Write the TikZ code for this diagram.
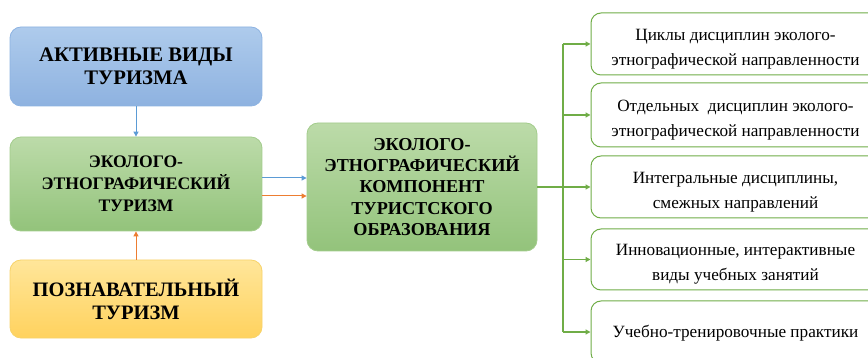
\documentclass[tikz,border=0pt]{standalone}
\usepackage{fontspec}
\setmainfont{Liberation Serif}
\newfontfamily\ser{Liberation Serif}
\usetikzlibrary{arrows.meta}
\definecolor{bluebd}{HTML}{8DB3E2}
\definecolor{bluetop}{HTML}{AECBEC}
\definecolor{bluebot}{HTML}{8EB2E0}
\definecolor{greenbd}{HTML}{A3CC8C}
\definecolor{greentop}{HTML}{BCDBA9}
\definecolor{greenbot}{HTML}{93C37B}
\definecolor{orangebd}{HTML}{F7D36A}
\definecolor{orangetop}{HTML}{FFE69A}
\definecolor{orangebot}{HTML}{FFD25E}
\definecolor{linegreen}{HTML}{70AD47}
\definecolor{arrblue}{HTML}{5B9BD5}
\definecolor{arrorange}{HTML}{ED7D31}
\tikzset{
  leftbox/.style={draw, line width=0.8pt, rounded corners=11pt, minimum width=252pt, align=center, inner sep=0pt},
  rightbox/.style={draw=linegreen, line width=1pt, rounded corners=10pt, fill=white, minimum width=289pt, inner sep=0pt},
  rtext/.style={align=center, inner sep=0pt, font=\ser\fontsize{17.2}{25}\selectfont},
  garr/.style={draw=linegreen, line width=1.2pt, -{Triangle[length=5pt,width=5pt]}},
  gline/.style={draw=linegreen, line width=1.2pt},
  barr/.style={draw=arrblue, line width=1pt, -{Triangle[length=5pt,width=5pt]}},
  oarr/.style={draw=arrorange, line width=1pt, -{Triangle[length=5pt,width=5pt]}}
}
\begin{document}
\begin{tikzpicture}[x=1pt,y=-1pt]
\useasboundingbox (0,0) rectangle (868,358);
\fill[white] (0,0) rectangle (868,358);
\clip (0,0) rectangle (868,358);
\node[leftbox, draw=bluebd, top color=bluetop, bottom color=bluebot, minimum height=79pt, font=\ser\bfseries\fontsize{20.7}{23}\selectfont] (blue) at (136,66.5) {АКТИВНЫЕ ВИДЫ\\ТУРИЗМА};
\node[leftbox, draw=greenbd, top color=greentop, bottom color=greenbot, minimum height=94pt, font=\ser\bfseries\fontsize{17.6}{22}\selectfont] (greenL) at (136,184) {ЭКОЛОГО-\\ЭТНОГРАФИЧЕСКИЙ\\ТУРИЗМ};
\node[leftbox, draw=orangebd, top color=orangetop, bottom color=orangebot, minimum height=78pt, font=\ser\bfseries\fontsize{20.5}{23}\selectfont] (orange) at (136,299) {ПОЗНАВАТЕЛЬНЫЙ\\ТУРИЗМ};
\node[leftbox, draw=greenbd, top color=greentop, bottom color=greenbot, minimum width=230pt, minimum height=128pt, font=\ser\bfseries\fontsize{18.2}{21.3}\selectfont] (central) at (422,187) {ЭКОЛОГО-\\ЭТНОГРАФИЧЕСКИЙ\\КОМПОНЕНТ\\ТУРИСТСКОГО\\ОБРАЗОВАНИЯ};

\node[rightbox, minimum height=62pt] (b1) at (735.5,44) {};
\node[rightbox, minimum height=64pt] (b2) at (735.5,115) {};
\node[rightbox, minimum height=62pt] (b3) at (735.5,187) {};
\node[rightbox, minimum height=61pt] (b4) at (735.5,259.5) {};
\node[rightbox, minimum height=62pt] (b5) at (735.5,332) {};
\node[rtext] (t1) at ([yshift=-5pt]b1.center) {Циклы дисциплин эколого-\\этнографической направленности};
\node[rtext] (t2) at ([yshift=-5pt]b2.center) {Отдельных \ дисциплин эколого-\\этнографической направленности};
\node[rtext] (t3) at ([yshift=-5pt]b3.center) {Интегральные дисциплины,\\смежных направлений};
\node[rtext] (t4) at ([yshift=-5pt]b4.center) {Инновационные, интерактивные\\виды учебных занятий};
\node[rtext] (t5) at ([yshift=-1pt]b5.center) {Учебно-тренировочные практики};

\draw[barr] (blue.south) -- (greenL.north);
\draw[oarr] (orange.north) -- (greenL.south);
\draw[barr] ([yshift=6pt]greenL.east) -- ([yshift=6pt]greenL.east -| central.west);
\draw[oarr] ([yshift=-12pt]greenL.east) -- ([yshift=-12pt]greenL.east -| central.west);

\coordinate (j) at (563,188);
\draw[gline] (central.east) -- (central.east -| j);
\draw[gline] (j |- b1.west) -- (j |- b5.west);
\foreach \b in {b1,b2,b3,b4,b5} {
  \draw[garr] (j |- \b.west) -- (\b.west);
}
\end{tikzpicture}
\end{document}
